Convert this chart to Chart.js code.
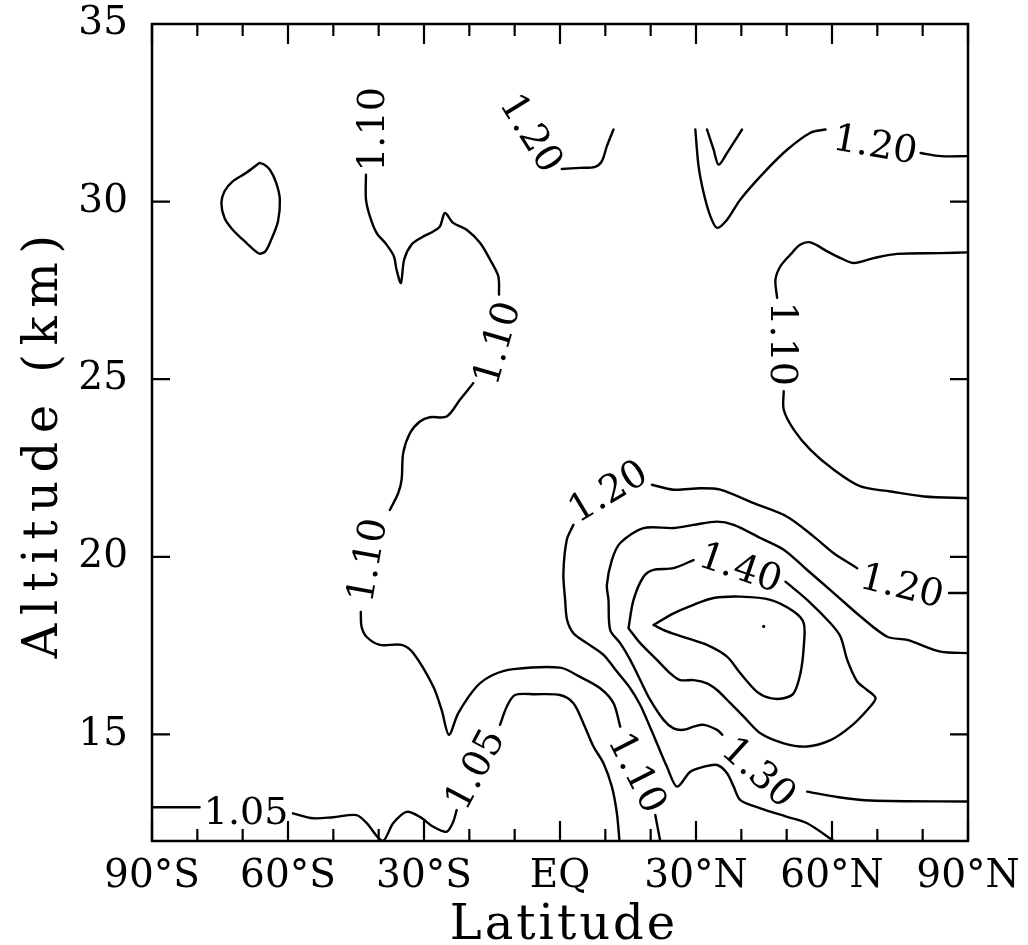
<!DOCTYPE html>
<html>
<head>
<meta charset="utf-8">
<script src="https://cdn.jsdelivr.net/npm/chart.js@4/dist/chart.umd.min.js"></script>
<style>
  html, body { margin: 0; padding: 0; background: #ffffff; }
  #wrap { width: 1028px; height: 945px; }
</style>
</head>
<body>
<div id="wrap"><canvas id="c" width="1028" height="945"></canvas></div>
<script>
// ---------- axis definitions ----------
const xTickValues = [-90, -60, -30, 0, 30, 60, 90];
const xTickLabels = ['90°S', '60°S', '30°S', 'EQ', '30°N', '60°N', '90°N'];
const xMinorTicks = [-80, -70, -50, -40, -20, -10, 10, 20, 40, 50, 70, 80];
const yTickValues = [15, 20, 25, 30, 35];
const yTickLabels = ['15', '20', '25', '30', '35'];
const xTitle = 'Latitude';
const yTitle = 'Altitude (km)';

// ---------- contour lines: [latitude, altitude km]; null = break where a label sits ----------
const c110West = [[-42.8,30.76],[-42.8,30.06],[-41.95,29.59],[-40.47,29.12],[-38.26,28.79],[-36.64,28.46],[-36.05,28.08],[-35.10,27.71],[-34.37,28.37],[-32.74,28.79],[-30.53,28.99],[-27.96,29.16],[-26.48,29.30],[-25.38,29.68],[-23.55,29.40],[-20.59,29.21],[-17.65,28.84],[-15.44,28.37],[-13.61,27.90],[-13.45,27.38],
  null,[-19.13,24.89],[-22.07,24.42],[-25.00,23.95],[-28.69,23.93],[-30.90,23.81],[-33.11,23.48],[-34.59,22.92],[-34.94,22.17],[-35.70,21.79],[-37.53,21.32],
  null,[-43.94,18.45],[-43.78,18.04],[-42.68,17.75],[-39.74,17.52],[-34.94,17.52],[-32.38,17.29],[-27.96,16.35],[-26.11,15.69],[-24.50,14.99],[-22.44,15.60],[-18.38,16.35],[-14.71,16.68],[-10.29,16.84],[0.02,16.88],[4.44,16.62],[8.86,16.30],[11.80,15.88],[13.28,15.22],
  null,[21.01,12.73],[22.11,12.0]];
const c110East = [[90,28.57],[83.97,28.55],[74.40,28.53],[69.23,28.41],[64.81,28.27],[61.88,28.41],[58.94,28.60],[55.25,28.85],[53.04,28.79],[50.83,28.51],[48.62,28.18],[47.52,27.80],[47.89,27.29],
  null,[49.35,24.66],[49.35,24.14],[51.56,23.58],[55.25,23.01],[60.40,22.45],[66.29,21.98],[72.92,21.84],[80.28,21.70],[90,21.65]];
const c105 = [[-90,12.95],[-79.5,12.95],
  null,[-58.89,12.78],[-54.47,12.64],[-50.05,12.67],[-44.89,12.73],[-42.68,12.51],[-39.14,12.0],[-36.80,12.50],[-33.84,12.82],[-30.90,12.68],[-27.96,12.40],[-25.00,12.26],[-23.55,12.54],[-22.80,12.87],
  null,[-13.23,15.27],[-11.75,15.78],[-9.92,16.11],[-5.50,16.13],[0.02,16.11],[2.96,15.88],[5.17,15.31],[7.38,14.66],[9.59,14.19],[11.44,13.53],[12.55,12.78],[13.12,12.0]];
const c120NW = [[0.40,30.92],[4.44,30.95],[7.76,30.98],[9.24,31.14],[10.34,31.56],[11.80,32.03]];
const c120NE = [[29.85,32.03],[30.57,30.99],[31.68,30.25],[33.16,29.59],[34.64,29.26],[36.85,29.49],[39.79,30.06],[44.93,30.81],[50.10,31.46],[55.25,31.94],[58.56,32.03],
  null,[79.55,31.37],[83.97,31.28],[90,31.28]];
const cSmallV = [[32.43,32.03],[33.89,31.46],[34.99,31.04],[36.85,31.37],[40.16,32.03]];
const c120S = [[90,18.98],[85.80,18.98],
  null,[65.56,19.68],[60.40,20.10],[55.98,20.57],[50.10,21.13],[42.72,21.51],[35.37,21.89],[30.95,21.93],[25.05,21.89],[20.28,22.03],
  null,[2.96,20.90],[1.50,20.48],[0.75,19.54],[1.13,18.79],[1.57,18.22],[2.96,17.85],[5.92,17.57],[9.59,17.24],[12.55,16.77],[15.49,16.30],[17.70,15.83],[19.18,15.41],[21.38,14.75],[23.59,14.09],[25.80,13.53],[28.74,13.95],[31.68,14.09],[34.64,14.14],[36.85,13.91],[38.31,13.53],[39.79,13.15],[44.20,12.92],[50.10,12.68],[54.52,12.50],[60.40,12.0]];
const c130 = [[90,17.29],[83.97,17.33],[76.61,17.66],[72.19,17.75],[66.29,18.32],[60.40,18.98],[54.52,19.63],[49.35,20.20],[44.20,20.53],[38.31,20.90],[34.64,20.99],[29.47,20.90],[25.05,20.81],[18.43,20.81],[13.28,20.39],[11.44,19.91],[10.34,19.21],[10.69,18.79],[11.07,17.94],[13.28,17.57],[15.49,17.10],[17.70,16.53],[19.91,15.97],[22.84,15.41],[25.05,15.17],[27.26,15.13],[29.47,15.22],[31.68,15.27],[34.64,15.13],[35.81,14.99],
  null,[54.52,13.39],[61.15,13.24],[68.50,13.14],[90,13.11]];
const c140 = [[15.11,17.99],[16.22,18.79],[18.43,19.44],[20.63,19.63],[25.05,19.68],[29.47,19.91],
  null,[49.73,19.30],[54.52,18.79],[59.67,18.13],[61.88,17.75],[63.36,17.10],[65.56,16.49],[67.77,16.25],[69.61,16.02],[67.77,15.69],[64.09,15.22],[59.67,14.84],[54.52,14.66],[49.35,14.75],[44.20,15.03],[40.52,15.50],[37.58,15.88],[34.64,16.25],[32.43,16.44],[29.47,16.53],[26.53,16.53],[24.32,16.72],[21.38,17.10],[17.70,17.57],[15.11,17.99]];
const c150 = [[20.63,18.08],[25.05,18.41],[29.47,18.65],[33.89,18.84],[39.79,18.88],[46.41,18.79],[51.56,18.46],[53.77,18.13],[53.77,17.47],[53.04,16.72],[51.56,16.16],[49.35,16.02],[46.41,16.02],[43.47,16.20],[39.79,16.72],[36.85,17.19],[32.43,17.52],[28.01,17.71],[23.59,17.90],[20.63,18.08]];
const cLoopSW = [[-66.3,31.09],[-69.2,30.81],[-72.2,30.57],[-74.0,30.29],[-74.7,29.96],[-74.0,29.54],[-72.2,29.21],[-69.2,28.84],[-66.4,28.54],[-65.0,28.60],[-63.7,28.93],[-62.2,29.45],[-61.8,30.06],[-62.6,30.53],[-64.0,30.90],[-65.2,31.04],[-66.3,31.09]];
const maxPoint = [[44.93,18.04]];

// ---------- contour labels: text, latitude, altitude, angle (deg) ----------
const labelText  = ['1.10','1.10','1.10','1.10','1.10','1.05','1.05','1.20','1.20','1.20','1.20','1.30','1.40'];
const labelLat   = [-41.95,-14.33,-42.94,17.48,49.73,-69.23,-19.19,-5.94,69.61,75.51,10.34,44.20,39.94];
const labelAlt   = [32.03,26.03,19.91,13.95,26.0,12.87,14.04,31.96,31.66,19.24,21.89,13.98,19.75];
const labelAngle = [-90,-74,-80,63,90,0,-62,58,10,14,-31,42,19];

const contours = [c110West, c110East, c105, c120NW, c120NE, cSmallV, c120S, c130, c140, c150, cLoopSW];

function toPoints(arr) {
  const out = [];
  arr.forEach((p, i) => {
    if (p) out.push({ x: p[0], y: p[1] });
    else out.push({ x: arr[i - 1][0], y: null });
  });
  return out;
}

const datasets = contours.map(c => ({
  data: toPoints(c),
  showLine: true,
  borderColor: '#000',
  borderWidth: 2.4,
  borderJoinStyle: 'round',
  borderCapStyle: 'round',
  pointRadius: 0,
  fill: false,
  tension: 0.3,
  spanGaps: false
}));
datasets.push({
  data: toPoints(maxPoint),
  showLine: false,
  pointRadius: 1.6,
  pointBackgroundColor: '#000',
  pointBorderWidth: 0
});

const FONT = '"DejaVu Serif", "Liberation Serif", serif';

const decor = {
  id: 'decor',
  afterDatasetsDraw(chart) {
    const { ctx, chartArea: a, scales: { x, y } } = chart;
    ctx.save();
    ctx.strokeStyle = '#000';
    ctx.lineWidth = 2.5;
    ctx.strokeRect(a.left, a.top, a.right - a.left, a.bottom - a.top);
    ctx.lineWidth = 2.2;
    ctx.beginPath();
    xTickValues.concat(xMinorTicks).forEach(v => {
      const px = x.getPixelForValue(v);
      const len = xTickValues.includes(v) ? 20 : 12;
      ctx.moveTo(px, a.bottom); ctx.lineTo(px, a.bottom - len);
      ctx.moveTo(px, a.top); ctx.lineTo(px, a.top + len);
    });
    yTickValues.forEach(v => {
      const py = y.getPixelForValue(v);
      ctx.moveTo(a.left, py); ctx.lineTo(a.left + 18, py);
      ctx.moveTo(a.right, py); ctx.lineTo(a.right - 18, py);
    });
    ctx.stroke();

    // contour labels
    ctx.fillStyle = '#000';
    ctx.font = '38px ' + FONT;
    ctx.textAlign = 'center';
    ctx.textBaseline = 'alphabetic';
    labelText.forEach((t, i) => {
      ctx.save();
      ctx.translate(x.getPixelForValue(labelLat[i]), y.getPixelForValue(labelAlt[i]));
      ctx.rotate(labelAngle[i] * Math.PI / 180);
      ctx.fillText(t, 0, 14);
      ctx.restore();
    });

    // axis titles
    ctx.font = '48px ' + FONT;
    ctx.textAlign = 'center';
    ctx.textBaseline = 'alphabetic';
    if ('letterSpacing' in ctx) ctx.letterSpacing = '3px';
    ctx.fillText(xTitle, (a.left + a.right) / 2 + 4, 939);
    ctx.save();
    if ('letterSpacing' in ctx) ctx.letterSpacing = '8.5px';
    ctx.translate(57, (a.top + a.bottom) / 2 + 10);
    ctx.rotate(-Math.PI / 2);
    ctx.fillText(yTitle, 0, 0);
    ctx.restore();
    ctx.restore();
  }
};

new Chart(document.getElementById('c'), {
  type: 'scatter',
  data: { datasets },
  options: {
    responsive: false,
    animation: false,
    devicePixelRatio: 1,
    layout: { padding: { top: 24, right: 60, left: 0, bottom: 0 } },
    plugins: { legend: { display: false }, tooltip: { enabled: false } },
    scales: {
      x: {
        type: 'linear', position: 'bottom', min: -90, max: 90,
        afterBuildTicks: s => { s.ticks = xTickValues.map(v => ({ value: v })); },
        afterFit: s => { s.height = 104; s.paddingLeft = 0; s.paddingRight = 0; },
        grid: { display: false, drawTicks: false },
        border: { display: false },
        ticks: {
          callback: (v, i) => xTickLabels[i],
          font: { family: FONT, size: 39 },
          color: '#000', padding: 12, maxRotation: 0, minRotation: 0, autoSkip: false
        }
      },
      y: {
        type: 'linear', position: 'left', min: 12, max: 35,
        afterBuildTicks: s => { s.ticks = yTickValues.map(v => ({ value: v })); },
        afterFit: s => { s.width = 152; s.paddingTop = 0; s.paddingBottom = 0; },
        grid: { display: false, drawTicks: false },
        border: { display: false },
        ticks: {
          callback: (v, i) => yTickLabels[i],
          font: { family: FONT, size: 39 },
          color: '#000', padding: 24, autoSkip: false
        }
      }
    }
  },
  plugins: [decor]
});
</script>
</body>
</html>
